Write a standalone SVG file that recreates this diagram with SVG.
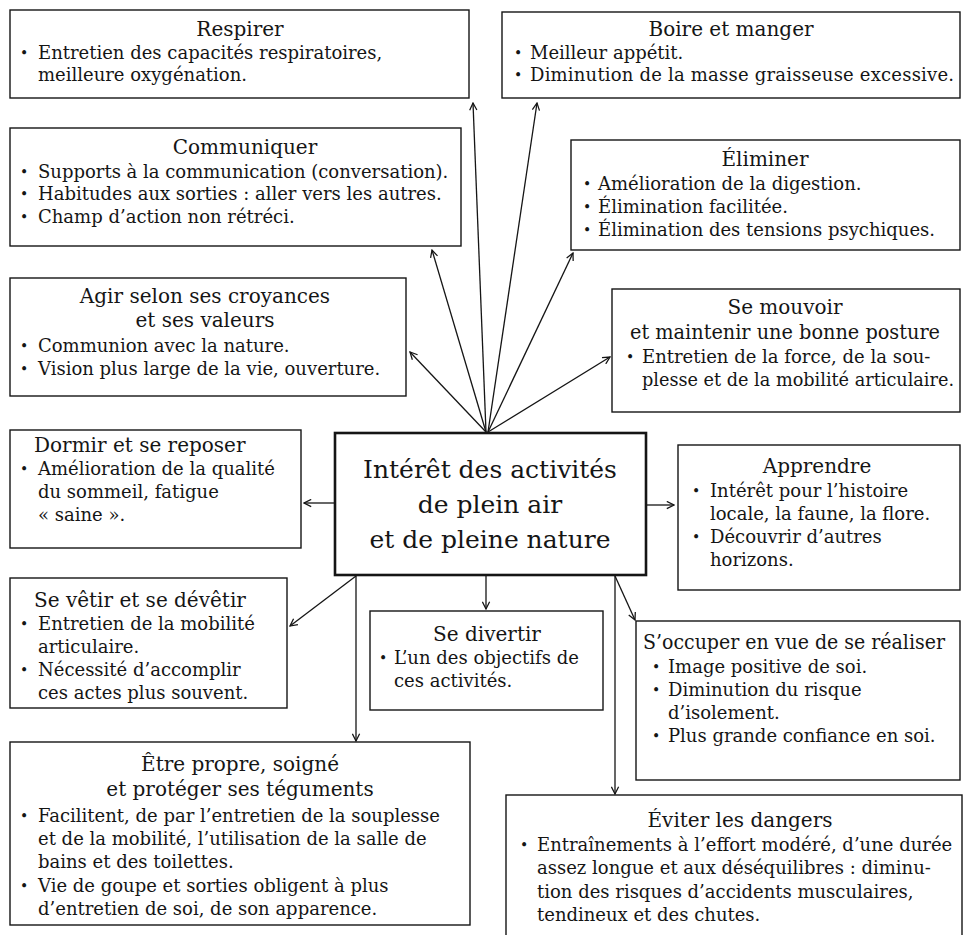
<svg xmlns="http://www.w3.org/2000/svg" width="963" height="935" viewBox="0 0 963 935">
<defs>
<style>
.n rect{fill:#fff;stroke:#151515;stroke-width:1.4}
text{font-family:"DejaVu Serif","Liberation Serif",serif;fill:#151515}
.h{font-size:20px;text-anchor:middle}
.hs{font-size:20px}
.b{font-size:18px}
.d{font-size:14px}
.c{font-size:25px;text-anchor:middle}
#edges line{stroke:#151515;stroke-width:1.3;marker-end:url(#ah)}
</style>
<marker id="ah" viewBox="0 0 10 10" refX="9" refY="5" markerWidth="9" markerHeight="9" markerUnits="userSpaceOnUse" orient="auto">
<path d="M1,1 L9,5 L1,9" fill="none" stroke="#151515" stroke-width="1.4"/>
</marker>
</defs>
<rect width="963" height="935" fill="#fff"/>

<g id="edges">
<line x1="486" y1="432" x2="473" y2="103"/>
<line x1="486" y1="432" x2="432" y2="250"/>
<line x1="486" y1="432" x2="410" y2="352"/>
<line x1="488" y1="432" x2="537" y2="103"/>
<line x1="488" y1="432" x2="573" y2="253"/>
<line x1="488" y1="432" x2="610" y2="357"/>
<line x1="334" y1="503" x2="304" y2="503"/>
<line x1="646" y1="505" x2="674" y2="505"/>
<line x1="356" y1="576" x2="290" y2="626"/>
<line x1="486" y1="576" x2="486" y2="609"/>
<line x1="356" y1="576" x2="356" y2="741"/>
<line x1="615" y1="576" x2="635" y2="620"/>
<line x1="615" y1="576" x2="615" y2="794"/>
</g>

<g id="respirer" class="n">
<rect x="10" y="10" width="459" height="88"/>
<text class="h" x="240" y="36">Respirer</text>
<text class="d" x="20" y="58">•</text>
<text class="b" x="38" y="59">Entretien des capacités respiratoires,</text>
<text class="b" x="38" y="81">meilleure oxygénation.</text>
</g>

<g id="boire" class="n">
<rect x="502" y="12" width="458" height="86"/>
<text class="h" x="731" y="36">Boire et manger</text>
<text class="d" x="514" y="58">•</text>
<text class="b" x="530" y="59">Meilleur appétit.</text>
<text class="d" x="514" y="80">•</text>
<text class="b" x="530" y="81" textLength="424" lengthAdjust="spacing">Diminution de la masse graisseuse excessive.</text>
</g>

<g id="communiquer" class="n">
<rect x="10" y="128" width="451" height="118"/>
<text class="h" x="245" y="154">Communiquer</text>
<text class="d" x="20" y="177">•</text>
<text class="b" x="38" y="178">Supports à la communication (conversation).</text>
<text class="d" x="20" y="199">•</text>
<text class="b" x="38" y="200">Habitudes aux sorties : aller vers les autres.</text>
<text class="d" x="20" y="222">•</text>
<text class="b" x="38" y="223">Champ d’action non rétréci.</text>
</g>

<g id="eliminer" class="n">
<rect x="571" y="140" width="389" height="110"/>
<text class="h" x="765" y="166">Éliminer</text>
<text class="d" x="583" y="189">•</text>
<text class="b" x="598" y="190">Amélioration de la digestion.</text>
<text class="d" x="583" y="212">•</text>
<text class="b" x="598" y="213">Élimination facilitée.</text>
<text class="d" x="583" y="235">•</text>
<text class="b" x="598" y="236">Élimination des tensions psychiques.</text>
</g>

<g id="agir" class="n">
<rect x="10" y="278" width="396" height="118"/>
<text class="h" x="205" y="303">Agir selon ses croyances</text>
<text class="h" x="205" y="327">et ses valeurs</text>
<text class="d" x="20" y="351">•</text>
<text class="b" x="38" y="352">Communion avec la nature.</text>
<text class="d" x="20" y="374">•</text>
<text class="b" x="38" y="375">Vision plus large de la vie, ouverture.</text>
</g>

<g id="mouvoir" class="n">
<rect x="612" y="289" width="348" height="123"/>
<text class="h" x="785" y="314">Se mouvoir</text>
<text class="h" x="785" y="339" textLength="310" lengthAdjust="spacingAndGlyphs">et maintenir une bonne posture</text>
<text class="d" x="626" y="362">•</text>
<text class="b" x="642" y="363">Entretien de la force, de la sou-</text>
<text class="b" x="642" y="386" textLength="312" lengthAdjust="spacingAndGlyphs">plesse et de la mobilité articulaire.</text>
</g>

<g id="dormir" class="n">
<rect x="10" y="430" width="291" height="118"/>
<text class="hs" x="34" y="452">Dormir et se reposer</text>
<text class="d" x="20" y="474">•</text>
<text class="b" x="38" y="475">Amélioration de la qualité</text>
<text class="b" x="38" y="498">du sommeil, fatigue</text>
<text class="b" x="38" y="521">« saine ».</text>
</g>

<g id="centre" class="n">
<rect x="335" y="433" width="311" height="142" style="stroke-width:2.6"/>
<text class="c" x="490" y="478">Intérêt des activités</text>
<text class="c" x="490" y="513">de plein air</text>
<text class="c" x="490" y="548">et de pleine nature</text>
</g>

<g id="apprendre" class="n">
<rect x="678" y="445" width="282" height="145"/>
<text class="h" x="817" y="473">Apprendre</text>
<text class="d" x="692" y="496">•</text>
<text class="b" x="710" y="497">Intérêt pour l’histoire</text>
<text class="b" x="710" y="520">locale, la faune, la flore.</text>
<text class="d" x="692" y="542">•</text>
<text class="b" x="710" y="543">Découvrir d’autres</text>
<text class="b" x="710" y="566">horizons.</text>
</g>

<g id="vetir" class="n">
<rect x="10" y="578" width="277" height="130"/>
<text class="hs" x="34" y="607">Se vêtir et se dévêtir</text>
<text class="d" x="20" y="629">•</text>
<text class="b" x="38" y="630">Entretien de la mobilité</text>
<text class="b" x="38" y="653">articulaire.</text>
<text class="d" x="20" y="675">•</text>
<text class="b" x="38" y="676">Nécessité d’accomplir</text>
<text class="b" x="38" y="699">ces actes plus souvent.</text>
</g>

<g id="divertir" class="n">
<rect x="370" y="611" width="233" height="99"/>
<text class="h" x="487" y="641">Se divertir</text>
<text class="d" x="379" y="663">•</text>
<text class="b" x="394" y="664">L’un des objectifs de</text>
<text class="b" x="394" y="687">ces activités.</text>
</g>

<g id="occuper" class="n">
<rect x="636" y="621" width="324" height="159"/>
<text class="hs" x="643" y="649" textLength="302" lengthAdjust="spacingAndGlyphs">S’occuper en vue de se réaliser</text>
<text class="d" x="652" y="672">•</text>
<text class="b" x="668" y="673">Image positive de soi.</text>
<text class="d" x="652" y="695">•</text>
<text class="b" x="668" y="696">Diminution du risque</text>
<text class="b" x="668" y="719">d’isolement.</text>
<text class="d" x="652" y="741">•</text>
<text class="b" x="668" y="742">Plus grande confiance en soi.</text>
</g>

<g id="propre" class="n">
<rect x="10" y="742" width="460" height="183"/>
<text class="h" x="240" y="771">Être propre, soigné</text>
<text class="h" x="240" y="796">et protéger ses téguments</text>
<text class="d" x="20" y="821">•</text>
<text class="b" x="38" y="822">Facilitent, de par l’entretien de la souplesse</text>
<text class="b" x="38" y="845">et de la mobilité, l’utilisation de la salle de</text>
<text class="b" x="38" y="868">bains et des toilettes.</text>
<text class="d" x="20" y="891">•</text>
<text class="b" x="38" y="892">Vie de goupe et sorties obligent à plus</text>
<text class="b" x="38" y="915">d’entretien de soi, de son apparence.</text>
</g>

<g id="eviter" class="n">
<rect x="506" y="795" width="456" height="150"/>
<text class="h" x="740" y="827">Éviter les dangers</text>
<text class="d" x="520" y="850">•</text>
<text class="b" x="537" y="851">Entraînements à l’effort modéré, d’une durée</text>
<text class="b" x="537" y="874">assez longue et aux déséquilibres : diminu-</text>
<text class="b" x="537" y="898">tion des risques d’accidents musculaires,</text>
<text class="b" x="537" y="921">tendineux et des chutes.</text>
</g>
</svg>
